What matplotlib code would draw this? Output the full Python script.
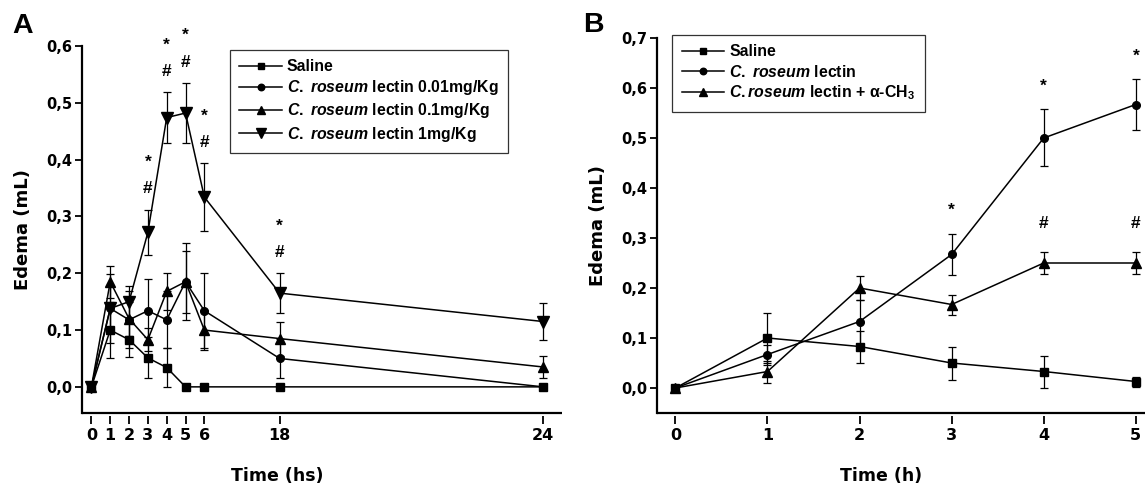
import numpy as np
import matplotlib
matplotlib.use("Agg")
import matplotlib.pyplot as plt
from matplotlib.ticker import FuncFormatter, FixedLocator
from matplotlib.lines import Line2D

plt.rcParams['font.family'] = ['Liberation Sans', 'DejaVu Sans']
plt.rcParams['font.weight'] = 'bold'
plt.rcParams['mathtext.fontset'] = 'custom'
plt.rcParams['mathtext.rm'] = 'Liberation Sans:bold'
plt.rcParams['mathtext.it'] = 'Liberation Sans:italic:bold'
plt.rcParams['mathtext.bf'] = 'Liberation Sans:bold'

# ---------------- Panel A data ----------------
times_a = [0, 1, 2, 3, 4, 5, 6, 18, 24]
saline_a = [0, 0.100, 0.083, 0.051, 0.034, 0, 0, 0, 0]
saline_a_err = [0, 0.050, 0.030, 0.036, 0.034, 0, 0, 0, 0]
low_a = [0, 0.138, 0.118, 0.134, 0.118, 0.185, 0.134, 0.050, 0]
low_a_err = [0, 0.060, 0.050, 0.055, 0.050, 0.068, 0.066, 0.035, 0.005]
mid_a = [0, 0.185, 0.120, 0.083, 0.168, 0.185, 0.100, 0.085, 0.035]
mid_a_err = [0, 0.028, 0.030, 0.020, 0.032, 0.055, 0.035, 0.030, 0.020]
high_a = [0, 0.138, 0.150, 0.272, 0.474, 0.482, 0.334, 0.165, 0.115]
high_a_err = [0, 0.040, 0.028, 0.040, 0.045, 0.053, 0.060, 0.035, 0.032]
sig_times_a = [3, 4, 5, 6, 18]
labels_a = ["Saline",
            r"$\it{C.}$ $\it{roseum}$ lectin 0.01mg/Kg",
            r"$\it{C.}$ $\it{roseum}$ lectin 0.1mg/Kg",
            r"$\it{C.}$ $\it{roseum}$ lectin 1mg/Kg"]
xticks_a = [0, 1, 2, 3, 4, 5, 6, 18, 24]
yticks_a = [0.0, 0.1, 0.2, 0.3, 0.4, 0.5, 0.6]

# ---------------- Panel B data ----------------
times_b = [0, 1, 2, 3, 4, 5]
saline_b = [0, 0.100, 0.083, 0.050, 0.033, 0.013]
saline_b_err = [0, 0.050, 0.032, 0.033, 0.032, 0.010]
lectin_b = [0, 0.067, 0.133, 0.267, 0.500, 0.567]
lectin_b_err = [0, 0.020, 0.044, 0.041, 0.057, 0.050]
inhib_b = [0, 0.033, 0.200, 0.167, 0.250, 0.250]
inhib_b_err = [0, 0.022, 0.024, 0.020, 0.021, 0.021]
star_times_b = [3, 4, 5]
hash_times_b = [4, 5]
labels_b = ["Saline",
            r"$\it{C.}$ $\it{roseum}$ lectin",
            r"$\it{C.roseum}$ lectin + α-CH$_3$"]
xticks_b = [0, 1, 2, 3, 4, 5]
yticks_b = [0.0, 0.1, 0.2, 0.3, 0.4, 0.5, 0.6, 0.7]

W, H = 1145, 487
fig = plt.figure(figsize=(W / 100, H / 100), dpi=100)
HEAVY = 'DejaVu Sans'

def px_axes(l, t, r, b):
    return fig.add_axes([l / W, 1 - b / H, (r - l) / W, (b - t) / H])

comma = FuncFormatter(lambda v, p: f"{v:.1f}".replace('.', ','))

def style(ax):
    ax.spines['top'].set_visible(False)
    ax.spines['right'].set_visible(False)
    ax.spines['bottom'].set_position(('outward', 1.8))
    ax.spines['bottom'].set_visible(False)
    ax.plot([0, 1], [0, 0], transform=ax.transAxes, color='black', lw=1.6,
            clip_on=False, solid_capstyle='butt')
    ax.spines['left'].set_linewidth(1.6)
    ax.tick_params(axis='y', direction='out', length=5, width=1.3, labelsize=10.5, pad=2)
    ax.tick_params(axis='x', direction='out', length=5.5, width=1.3, labelsize=11.5, pad=3.5)
    ax.yaxis.set_major_formatter(comma)
    for lab in ax.get_xticklabels() + ax.get_yticklabels():
        lab.set_fontweight('bold')
        lab.set_fontfamily(HEAVY)

def series(ax, x, y, e, marker, ms):
    ax.errorbar(x, y, yerr=e, color='black', marker=marker, ms=ms, lw=1.1,
                elinewidth=0.9, capsize=3, capthick=0.9)
    return Line2D([], [], color='black', marker=marker, ms=ms * 0.85, lw=1.1)

def legend(ax, handles, labels, anchor):
    leg = ax.legend(handles, labels, loc='upper left', bbox_to_anchor=anchor,
                    borderaxespad=0, frameon=True, fancybox=False, edgecolor='black',
                    handlelength=2.7, handletextpad=0.3, labelspacing=0.26,
                    borderpad=0.6, prop={'weight': 'bold', 'size': 11.4})
    leg.get_frame().set_linewidth(0.9)
    return leg

# ---------------- Panel A ----------------
T_knots = [-10, 0, 6, 18, 24, 40]
U_knots = [-10, 0, 6, 10, 24, 40]
fwd = lambda t: np.interp(t, T_knots, U_knots)
inv = lambda u: np.interp(u, U_knots, T_knots)

axA = px_axes(82, 46, 562, 413)
axA.set_xscale('function', functions=(fwd, inv))
hA = [series(axA, times_a, saline_a, saline_a_err, 's', 5.5),
      series(axA, times_a, low_a, low_a_err, 'o', 5.5),
      series(axA, times_a, mid_a, mid_a_err, '^', 7),
      series(axA, times_a, high_a, high_a_err, 'v', 8)]
axA.set_xlim(-0.5, 25)
axA.set_ylim(-0.046, 0.6)
axA.xaxis.set_major_locator(FixedLocator(xticks_a))
axA.xaxis.set_minor_locator(FixedLocator([]))
axA.set_xticks(xticks_a)
axA.set_xticklabels([str(t) for t in xticks_a])
axA.set_yticks(yticks_a)
style(axA)
for t in sig_times_a:
    i = times_a.index(t)
    top = high_a[i] + high_a_err[i]
    axA.annotate('#', (t, top), xytext=(0, 15), textcoords='offset points',
                 ha='center', va='center', fontsize=12.5, fontweight='bold')
    axA.annotate('*', (t, top), xytext=(0, 34), textcoords='offset points',
                 ha='center', va='center', fontsize=12.5, fontweight='bold')
axA.set_ylabel('Edema (mL)', fontsize=13, fontweight='bold', family=HEAVY)
axA.yaxis.set_label_coords(-0.104, 0.5)
axA.set_xlabel('Time (hs)', fontsize=12.5, fontweight='bold', family=HEAVY)
axA.xaxis.set_label_coords(0.406, -0.148)
legend(axA, hA, labels_a, (0.308, 0.99))

# ---------------- Panel B ----------------
axB = px_axes(657, 38, 1145, 413)
hB = [series(axB, times_b, saline_b, saline_b_err, 's', 5.5),
      series(axB, times_b, lectin_b, lectin_b_err, 'o', 5.5),
      series(axB, times_b, inhib_b, inhib_b_err, '^', 7)]
axB.set_xlim(-0.2, 5.1)
axB.set_ylim(-0.05, 0.7)
axB.set_xticks(xticks_b)
axB.set_yticks(yticks_b)
style(axB)
for t in star_times_b:
    i = times_b.index(t)
    axB.annotate('*', (t, lectin_b[i] + lectin_b_err[i]), xytext=(0, 17),
                 textcoords='offset points', ha='center', va='center',
                 fontsize=12.5, fontweight='bold')
for t in hash_times_b:
    i = times_b.index(t)
    axB.annotate('#', (t, inhib_b[i] + inhib_b_err[i]), xytext=(0, 21),
                 textcoords='offset points', ha='center', va='center',
                 fontsize=12.5, fontweight='bold')
axB.set_ylabel('Edema (mL)', fontsize=13, fontweight='bold', family=HEAVY)
axB.yaxis.set_label_coords(-0.1025, 0.5)
axB.set_xlabel('Time (h)', fontsize=12.5, fontweight='bold', family=HEAVY)
axB.xaxis.set_label_coords(0.46, -0.145)
legend(axB, hB, labels_b, (0.031, 1.008))

fig.text(12 / W, 1 - 13 / H, 'A', fontsize=20.5, fontweight='bold', va='top', ha='left')
fig.text(583 / W, 1 - 12 / H, 'B', fontsize=20.5, fontweight='bold', va='top', ha='left')

fig.savefig('out.png', dpi=100)
